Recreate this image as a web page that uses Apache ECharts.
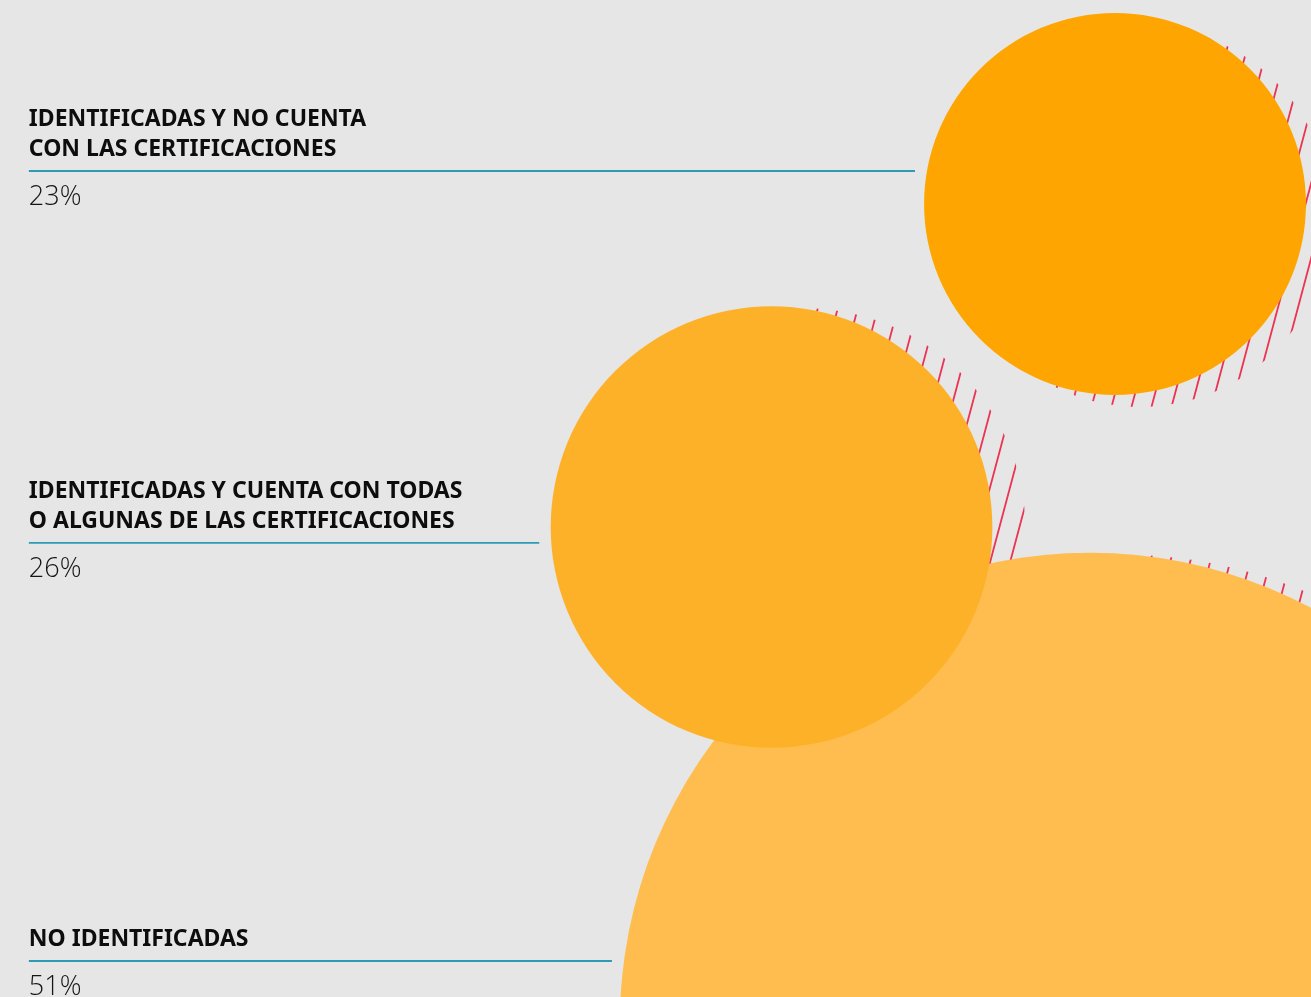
<!DOCTYPE html>
<html>
<head>
<meta charset="utf-8">
<script src="https://cdn.jsdelivr.net/npm/echarts@6/dist/echarts.min.js"></script>
<style>
  html, body { margin: 0; padding: 0; background: #e6e6e6; }
  #chart { width: 1311px; height: 997px; }
</style>
</head>
<body>
<div id="chart"></div>
<script>
// Categories and their shares (%)
const categories = [
  'IDENTIFICADAS Y NO CUENTA\nCON LAS CERTIFICACIONES',
  'IDENTIFICADAS Y CUENTA CON TODAS\nO ALGUNAS DE LAS CERTIFICACIONES',
  'NO IDENTIFICADAS'
];
const shares = [23, 26, 51];

// Bubble layout in axis units (x: 0–100 left→right, y: 0–100 top→bottom)
const bubbleX = [85.05, 58.85, 83.14];
const bubbleY = [20.46, 52.86, 102.58];
// Vertical position of each label's rule, axis units
const ruleY = [17.15, 54.46, 96.39];
// Styling
const bubbleColors = ['#fea501', '#fdb128', '#febd4e'];
const shadowShift = [[25, 12], [33, 2], [33, 2]];
const hatchColor = '#ec3452';
const ruleColor = '#2d9bb5';

// Bubble radius (y-axis units) as a linear function of the share
const radiusOf = v => v - 3.85;

// Diagonal hatch tile used to fill the offset shadows
function makeHatch() {
  const w = 20, h = 75;
  const cv = document.createElement('canvas');
  cv.width = w; cv.height = h;
  const ctx = cv.getContext('2d');
  ctx.strokeStyle = hatchColor;
  ctx.lineWidth = 1.8;
  for (let k = -1; k <= 1; k++) {
    ctx.beginPath();
    ctx.moveTo(k * w - w, 2 * h);
    ctx.lineTo(k * w + 2 * w, -h);
    ctx.stroke();
  }
  return cv;
}
const hatch = { image: makeHatch(), repeat: 'repeat' };

const seriesData = shares.map((v, i) => [bubbleX[i], bubbleY[i], v]);

function geom(params, api) {
  const i = params.dataIndex;
  const c = api.coord([api.value(0), api.value(1)]);
  const r = Math.abs(api.coord([0, radiusOf(api.value(2))])[1] - api.coord([0, 0])[1]);
  return { i, cx: c[0], cy: c[1], r };
}

function renderShadow(params, api) {
  const g = geom(params, api);
  return {
    type: 'circle',
    z2: 100 - api.value(2),
    shape: { cx: g.cx + shadowShift[g.i][0], cy: g.cy + shadowShift[g.i][1], r: g.r },
    style: { fill: hatch }
  };
}

function renderBubble(params, api) {
  const g = geom(params, api);
  const v = api.value(2);
  const ry = api.coord([0, ruleY[g.i]])[1];
  const dy = ry - g.cy;
  const edge = g.cx - Math.sqrt(Math.max(g.r * g.r - dy * dy, 0));
  const left = api.coord([2.2, 0])[0];
  const lines = categories[g.i].split('\n');
  const children = [
    {
      type: 'circle',
      z2: 100 - v,
      shape: { cx: g.cx, cy: g.cy, r: g.r },
      style: { fill: bubbleColors[g.i] }
    },
    {
      type: 'line',
      z2: 200,
      shape: { x1: left, y1: ry, x2: edge - 12, y2: ry },
      style: { stroke: ruleColor, lineWidth: 1.8 }
    },
    {
      type: 'text',
      z2: 200,
      x: left, y: ry + 26,
      style: {
        text: v + '%',
        fill: '#151515',
        font: '300 27px "Open Sans"',
        align: 'left', verticalAlign: 'middle'
      }
    }
  ];
  lines.forEach((t, k) => {
    children.push({
      type: 'text',
      z2: 200,
      x: left, y: ry - 22 - 30 * (lines.length - 1 - k),
      style: {
        text: t,
        fill: '#0d0d0d',
        font: 'bold 23px "Noto Sans"',
        align: 'left', verticalAlign: 'middle'
      }
    });
  });
  return { type: 'group', children };
}

const chart = echarts.init(document.getElementById('chart'));
chart.setOption({
  backgroundColor: '#e6e6e6',
  animation: false,
  grid: { left: 0, right: 0, top: 0, bottom: 0 },
  xAxis: { type: 'value', min: 0, max: 100, show: false },
  yAxis: { type: 'value', min: 0, max: 100, inverse: true, show: false },
  series: [
    {
      type: 'custom',
      name: 'shadow',
      z: 1,
      silent: true,
      renderItem: renderShadow,
      data: seriesData
    },
    {
      type: 'custom',
      name: 'bubbles',
      z: 2,
      renderItem: renderBubble,
      data: seriesData
    }
  ]
});
</script>
</body>
</html>
